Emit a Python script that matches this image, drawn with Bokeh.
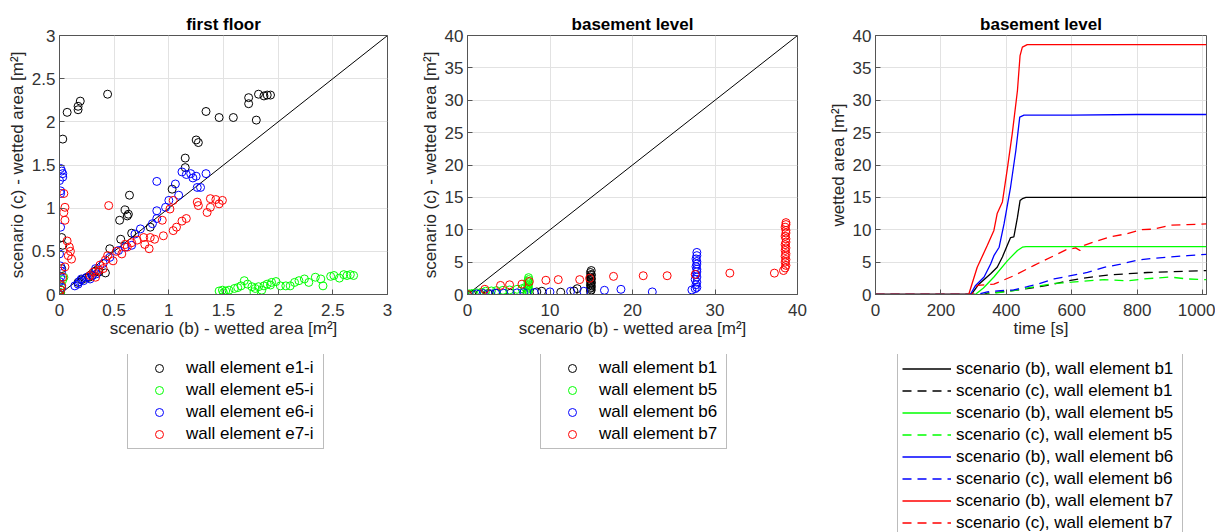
from bokeh.plotting import figure
from bokeh.layouts import row, column
from bokeh.models import Range1d, FixedTicker, Legend, LegendItem
from bokeh.embed import file_html
from bokeh.resources import INLINE

FONT = "Liberation Sans"
BLACK, GREEN, BLUE, RED = "#000000", "#00ff00", "#0000ff", "#ff0000"
DASH = "9 6"

# ---------------- panel 1: first floor (scenario b vs scenario c) ----------------
e1_x = [0.00, 0.01, 0.02, 0.03, 0.02, 0.03, 0.07, 0.17, 0.17, 0.19, 0.44, 1.34, 1.46, 1.59, 1.73,
        1.73, 1.80, 1.82, 1.87, 1.90, 1.93, 1.25, 1.27, 1.15, 1.15, 1.03, 0.64, 0.60, 0.63, 0.62,
        0.55, 0.56, 0.66, 0.83, 0.46, 0.17, 0.20, 0.24, 0.30, 0.36, 0.42, 0.27, 0.33, 0.01]
e1_y = [0.00, 0.05, 0.66, 0.57, 0.30, 1.80, 2.11, 2.18, 2.14, 2.24, 2.32, 2.12, 2.05, 2.05, 2.28,
        2.21, 2.02, 2.32, 2.30, 2.31, 2.31, 1.79, 1.76, 1.58, 1.47, 1.22, 1.15, 0.98, 0.93, 0.91,
        0.86, 0.64, 0.71, 0.78, 0.53, 0.14, 0.17, 0.19, 0.22, 0.26, 0.25, 0.20, 0.27, 0.02]
e5_x = [0.01, 0.02, 0.03, 0.01, 0.04, 1.46, 1.49, 1.52, 1.55, 1.60, 1.63, 1.66, 1.69, 1.72, 1.76,
        1.79, 1.82, 1.87, 1.90, 1.94, 1.98, 2.02, 2.07, 2.11, 2.15, 2.19, 2.24, 2.28, 2.34, 2.39,
        2.41, 2.48, 2.51, 2.56, 2.60, 2.63, 2.66, 2.69, 1.50, 1.78, 1.85, 1.93]
e5_y = [0.02, 0.10, 0.17, 0.06, 0.20, 0.04, 0.05, 0.04, 0.05, 0.07, 0.08, 0.10, 0.16, 0.12, 0.09,
        0.07, 0.09, 0.10, 0.12, 0.14, 0.15, 0.10, 0.10, 0.10, 0.14, 0.16, 0.18, 0.14, 0.20, 0.18,
        0.10, 0.21, 0.22, 0.19, 0.23, 0.22, 0.23, 0.22, 0.02, 0.03, 0.05, 0.11]
e6_x = [0.01, 0.02, 0.03, 0.00, 0.01, 0.01, 0.03, 0.01, 0.00, 0.01, 0.02, 0.01, 0.02, 0.00,
        0.89, 1.12, 1.16, 1.20, 1.22, 1.25, 1.29, 1.34, 1.06, 1.09, 1.00, 0.97, 0.89, 0.89, 0.85,
        0.74, 0.69, 0.66, 0.60, 0.54, 0.46, 0.40, 0.34, 0.28, 0.22, 0.17, 0.14, 0.25, 0.30, 0.33,
        0.20, 0.18, 1.26]
e6_y = [1.46, 1.43, 1.40, 1.32, 1.20, 1.17, 1.36, 0.78, 0.47, 0.33, 0.27, 0.20, 0.08, 0.15,
        1.31, 1.42, 1.39, 1.40, 1.35, 1.37, 1.24, 1.40, 1.28, 1.15, 1.09, 1.01, 0.97, 0.88, 0.82,
        0.76, 0.70, 0.57, 0.55, 0.51, 0.43, 0.36, 0.24, 0.18, 0.16, 0.12, 0.10, 0.20, 0.22, 0.30,
        0.18, 0.15, 1.24]
e7_x = [0.04, 0.05, 0.04, 0.05, 0.07, 0.09, 0.10, 0.11, 0.08, 0.05, 0.03, 0.01, 0.00, 0.02,
        0.45, 0.37, 0.49, 0.57, 0.62, 0.71, 0.77, 0.83, 0.87, 0.95, 1.04, 1.07, 1.12, 1.16, 0.94,
        1.01, 1.04, 1.26, 1.27, 1.35, 1.38, 1.38, 1.46, 1.49, 0.82, 0.28, 0.31, 0.33, 0.36, 0.40,
        0.42, 0.44, 0.52, 0.60, 0.66, 0.78, 1.43]
e7_y = [1.17, 1.01, 0.95, 0.86, 0.62, 0.55, 0.50, 0.41, 0.45, 0.32, 0.20, 0.05, 0.00, 0.10,
        1.03, 0.34, 0.39, 0.47, 0.55, 0.63, 0.66, 0.66, 0.64, 0.68, 0.74, 0.78, 0.85, 0.88, 0.86,
        0.99, 1.09, 1.07, 1.03, 0.95, 1.01, 1.11, 1.05, 1.09, 0.53, 0.22, 0.26, 0.20, 0.28, 0.30,
        0.40, 0.45, 0.50, 0.58, 0.60, 0.58, 1.10]

# ---------------- panel 2: basement level (scenario b vs scenario c) ----------------
b1_x = [0.0, 0.5, 1.5, 2.5, 3.5, 5.2, 7.2, 8.4, 9.0, 11.3, 12.9, 13.3,
        14.9, 15.0, 14.9, 15.0, 15.0, 14.9, 15.0, 15.0, 14.9, 15.0, 15.0, 14.9, 15.0, 15.0, 14.9, 15.0]
b1_y = [0.0, 0.05, 0.1, 0.15, 0.2, 0.2, 0.25, 0.4, 0.5, 0.35, 0.55, 0.9,
        0.5, 0.7, 0.95, 1.1, 1.35, 1.5, 1.75, 1.9, 2.1, 2.35, 2.5, 2.7, 2.95, 3.1, 3.4, 3.7]
b5_x = [0.2, 0.6, 1.1, 1.7, 2.2, 2.9, 3.5, 4.3, 5.1, 6.0, 6.6, 7.0,
        7.3, 7.4, 7.3, 7.4, 7.3, 7.4, 7.4, 7.3, 7.4, 7.4]
b5_y = [0.1, 0.15, 0.25, 0.35, 0.5, 0.55, 0.6, 0.65, 0.7, 0.8, 0.9, 1.1,
        0.3, 0.55, 0.8, 1.05, 1.3, 1.55, 1.8, 2.05, 2.3, 2.6]
b6_x = [1.1, 1.9, 2.8, 3.4, 4.4, 6.0, 6.8, 8.1, 10.0, 12.5, 14.1, 16.6, 18.6, 22.4, 27.2,
        27.6, 27.8, 27.7, 27.8, 27.6, 27.8, 27.7, 27.8, 27.8, 27.7, 27.8, 27.8, 27.7, 27.8, 27.8]
b6_y = [0.1, 0.15, 0.1, 0.2, 0.2, 0.25, 0.3, 0.3, 0.4, 0.5, 0.5, 0.65, 0.8, 0.4, 0.7,
        0.9, 1.1, 1.5, 1.9, 2.3, 2.7, 3.1, 3.5, 3.9, 4.3, 4.7, 5.1, 5.5, 6.0, 6.5]
b7_x = [0.0, 2.1, 4.0, 5.1, 6.6, 7.5, 9.5, 11.0, 13.6, 14.8, 17.7, 21.3, 24.2, 27.6, 31.8, 37.2,
        38.3, 38.5, 38.6, 38.5, 38.6, 38.5, 38.6, 38.5, 38.6, 38.5, 38.6, 38.6, 38.5, 38.6, 38.6,
        38.5, 38.6, 38.6]
b7_y = [0.0, 0.8, 1.4, 1.5, 1.6, 2.0, 2.2, 2.3, 2.3, 2.5, 2.8, 2.9, 2.9, 3.1, 3.3, 3.3,
        3.7, 4.1, 4.5, 5.0, 5.4, 5.9, 6.3, 6.8, 7.2, 7.7, 8.1, 8.6, 9.0, 9.5, 9.9,
        10.4, 10.8, 11.1]

# ---------------- panel 3: basement level, wetted area over time ----------------
t_b1 = [0, 286, 296, 316, 352, 372, 388, 403, 413, 423, 434, 442, 449, 460, 600, 800, 1012]
v_b1 = [0, 0, 0.2, 1.6, 3.2, 4.2, 5.8, 7.6, 8.8, 8.9, 11.9, 14.5, 14.8, 15.0, 15.0, 15.0, 15.0]
t_c1 = [0, 330, 342, 403, 464, 526, 587, 648, 709, 770, 832, 893, 954, 1012]
v_c1 = [0, 0, 0.2, 0.5, 0.9, 1.4, 2.1, 2.6, 3.0, 3.2, 3.4, 3.5, 3.6, 3.7]
t_b5 = [0, 305, 330, 362, 403, 434, 449, 460, 1012]
v_b5 = [0, 0, 1.0, 2.7, 5.2, 6.8, 7.3, 7.4, 7.4]
t_c5 = [0, 335, 362, 423, 485, 546, 600, 648, 700, 770, 821, 900, 954, 1012]
v_c5 = [0, 0, 0.2, 0.6, 1.2, 1.7, 1.9, 2.1, 2.3, 2.1, 2.4, 2.7, 2.4, 2.3]
t_b6 = [0, 290, 306, 332, 352, 362, 378, 393, 413, 429, 441, 454, 600, 800, 1012]
v_b6 = [0, 0, 1.4, 2.7, 4.7, 6.0, 7.3, 10.9, 16.6, 22.2, 27.4, 27.7, 27.7, 27.8, 27.8]
t_c6 = [0, 310, 342, 383, 423, 464, 495, 546, 597, 648, 699, 750, 801, 852, 903, 954, 1012]
v_c6 = [0, 0, 0.4, 0.6, 0.7, 1.2, 1.6, 2.4, 2.9, 3.4, 4.2, 4.7, 5.3, 5.6, 5.8, 6.0, 6.2]
t_b7 = [0, 285, 311, 342, 362, 372, 388, 403, 418, 434, 442, 449, 464, 700, 1012]
v_b7 = [0, 0, 4.2, 7.6, 9.9, 12.5, 14.3, 19.4, 24.8, 31.5, 36.9, 38.2, 38.6, 38.6, 38.6]
t_c7 = [0, 295, 311, 362, 423, 485, 546, 582, 612, 625, 638, 679, 719, 770, 811, 852, 903, 954, 1012]
v_c7 = [0, 0, 1.4, 1.6, 2.9, 4.5, 6.0, 6.9, 7.2, 6.8, 7.6, 8.3, 8.9, 9.4, 10.0, 10.1, 10.7, 10.8, 10.9]

ticks_p1 = [0, 0.5, 1, 1.5, 2, 2.5, 3]
ticks_p2 = [0, 10, 20, 30, 40]
ticks_p2y = [0, 5, 10, 15, 20, 25, 30, 35, 40]
ticks_p3 = [0, 200, 400, 600, 800, 1000]

TOTAL_H = 532
TOP = 35
FRAME_H = 259
BOTTOM = 60
PLOT_H = TOP + FRAME_H + BOTTOM
LEG_H = TOTAL_H - PLOT_H


def make_fig(width, left, right, xr, yr, xt, yt, title, xlabel, ylabel):
    p = figure(width=width, height=PLOT_H, x_range=Range1d(*xr), y_range=Range1d(*yr),
               output_backend="svg", toolbar_location=None, title=title,
               min_border_left=left, min_border_right=right, min_border_top=TOP,
               min_border_bottom=BOTTOM)
    p.title.text_font = FONT
    p.title.text_font_size = "17px"
    p.title.text_font_style = "bold"
    p.title.align = "center"
    p.title.text_color = "#000000"
    p.title.standoff = 4
    p.outline_line_color = "#555555"
    p.outline_line_width = 1
    p.background_fill_color = "white"
    p.border_fill_color = "white"
    xtick = FixedTicker(ticks=xt)
    ytick = FixedTicker(ticks=yt)
    p.xaxis.ticker = xtick
    p.yaxis.ticker = ytick
    p.xgrid.ticker = xtick
    p.ygrid.ticker = ytick
    p.grid.grid_line_color = "#e2e2e2"
    p.grid.grid_line_width = 1
    p.xaxis.axis_label = xlabel
    p.yaxis.axis_label = ylabel
    for ax in p.axis:
        ax.major_tick_in = 5
        ax.major_tick_out = 0
        ax.minor_tick_line_color = None
        ax.axis_line_color = "#555555"
        ax.major_tick_line_color = "#555555"
        ax.major_label_text_font = FONT
        ax.major_label_text_font_size = "17px"
        ax.major_label_text_color = "#333333"
        ax.axis_label_text_font = FONT
        ax.axis_label_text_font_size = "17px"
        ax.axis_label_text_font_style = "normal"
        ax.axis_label_text_color = "#262626"
    p.xaxis.major_label_standoff = 9
    p.xaxis.axis_label_standoff = 0
    p.yaxis.major_label_standoff = 4
    p.yaxis.axis_label_standoff = 2
    return p


def make_legend_fig(width, left, right):
    # frame shares the plot's left/right borders; its ranges lie outside all data,
    # so the series drawn here only feed the legend glyphs and stay hidden
    q = figure(width=width, height=LEG_H, x_range=Range1d(-2, -1), y_range=Range1d(-2, -1),
               x_axis_type=None, y_axis_type=None, output_backend="svg", toolbar_location=None,
               min_border_left=left, min_border_right=right, min_border_top=0, min_border_bottom=0)
    q.outline_line_color = None
    q.background_fill_color = "white"
    q.border_fill_color = "white"
    return q


def make_legend(items, x, top, n, label_width, glyph_width, row_h, padding, spacing, standoff):
    height = n * row_h + (n - 1) * spacing + 2 * padding
    lg = Legend(items=items, location=(x, LEG_H - top - height), orientation="vertical")
    lg.label_text_font = FONT
    lg.label_text_font_size = "17px"
    lg.label_text_color = "#000000"
    lg.label_width = label_width
    lg.label_height = row_h
    lg.glyph_height = row_h
    lg.glyph_width = glyph_width
    lg.padding = padding
    lg.spacing = spacing
    lg.label_standoff = standoff
    lg.border_line_color = "#7a7a7a"
    lg.border_line_width = 1
    lg.background_fill_color = "white"
    lg.background_fill_alpha = 1.0
    lg.margin = 0
    return lg


# ---- panel 1
p1 = make_fig(415, 59, 28, (0, 3), (0, 3), ticks_p1, ticks_p1, "first floor",
              "scenario (b) - wetted area [m²]", "scenario (c) - wetted area [m²]")
labels1 = {float(t): f"{t:g}" for t in ticks_p1}
p1.xaxis.major_label_overrides = labels1
p1.yaxis.major_label_overrides = labels1
p1.line([0, 3], [0, 3], line_color=BLACK, line_width=1)
q1 = make_legend_fig(415, 59, 28)
items1 = []
for xs, ys, c, lab in [(e1_x, e1_y, BLACK, "wall element e1-i"), (e5_x, e5_y, GREEN, "wall element e5-i"),
                       (e6_x, e6_y, BLUE, "wall element e6-i"), (e7_x, e7_y, RED, "wall element e7-i")]:
    p1.scatter(xs, ys, marker="circle", size=8, fill_color=None, line_color=c, line_width=1)
    rk = q1.scatter(xs, ys, marker="circle", size=8, fill_color=None, line_color=c, line_width=1)
    items1.append(LegendItem(label=lab, renderers=[rk]))
q1.add_layout(make_legend(items1, 127 - 59, 1, 4, 133, 54, 20, 4, 2, 0), "center")

# ---- panel 2
p2 = make_fig(410, 52, 28, (0, 40), (0, 40), ticks_p2, ticks_p2y, "basement level",
              "scenario (b) - wetted area [m²]", "scenario (c) - wetted area [m²]")
p2.line([0, 40], [0, 40], line_color=BLACK, line_width=1)
q2 = make_legend_fig(410, 52, 28)
items2 = []
for xs, ys, c, lab in [(b1_x, b1_y, BLACK, "wall element b1"), (b5_x, b5_y, GREEN, "wall element b5"),
                       (b6_x, b6_y, BLUE, "wall element b6"), (b7_x, b7_y, RED, "wall element b7")]:
    p2.scatter(xs, ys, marker="circle", size=8, fill_color=None, line_color=c, line_width=1)
    rk = q2.scatter(xs, ys, marker="circle", size=8, fill_color=None, line_color=c, line_width=1)
    items2.append(LegendItem(label=lab, renderers=[rk]))
q2.add_layout(make_legend(items2, 540 - 467, 1, 4, 123, 54, 20, 4, 2, 0), "center")

# ---- panel 3
p3 = make_fig(390, 50, 9, (0, 1012), (0, 40), ticks_p3, ticks_p2y, "basement level",
              "time [s]", "wetted area [m²]")
q3 = make_legend_fig(390, 50, 9)
series3 = [
    (t_b1, v_b1, BLACK, "solid", "scenario (b), wall element b1"),
    (t_c1, v_c1, BLACK, DASH, "scenario (c), wall element b1"),
    (t_b5, v_b5, GREEN, "solid", "scenario (b), wall element b5"),
    (t_c5, v_c5, GREEN, DASH, "scenario (c), wall element b5"),
    (t_b6, v_b6, BLUE, "solid", "scenario (b), wall element b6"),
    (t_c6, v_c6, BLUE, DASH, "scenario (c), wall element b6"),
    (t_b7, v_b7, RED, "solid", "scenario (b), wall element b7"),
    (t_c7, v_c7, RED, DASH, "scenario (c), wall element b7"),
]
items3 = []
for ts, vs, c, dash, lab in series3:
    p3.line(ts, vs, line_color=c, line_width=1.3, line_dash=dash)
    rk = q3.line(ts, vs, line_color=c, line_width=1.3, line_dash=dash)
    items3.append(LegendItem(label=lab, renderers=[rk]))
q3.add_layout(make_legend(items3, 897 - 875, 1, 8, 222, 49, 21, 4, 1, 5), "center")

layout = row(column(p1, q1, spacing=0), column(p2, q2, spacing=0), column(p3, q3, spacing=0), spacing=0)
open("out.html", "w").write(file_html(layout, INLINE))
